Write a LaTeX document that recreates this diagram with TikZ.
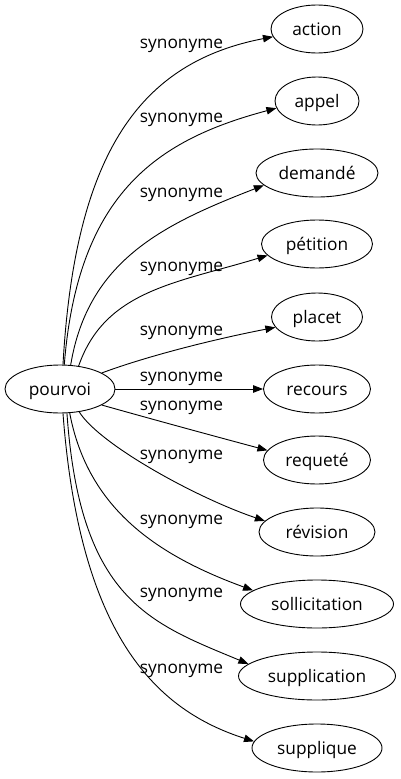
\documentclass[tikz,border=0pt]{standalone}
\usepackage{fontspec}
\setmainfont{Open Sans}
\usetikzlibrary{arrows.meta,shapes.geometric}
\begin{document}
\begin{tikzpicture}[x=1pt,y=-1pt,
  word/.style={ellipse, draw, line width=0.9pt, inner sep=0pt, minimum height=48pt,
    text height=15pt, text depth=3pt, font=\fontsize{17.3}{20}\selectfont},
  lab/.style={inner sep=0pt, anchor=center, font=\fontsize{17.3}{20}\selectfont},
  edge/.style={line width=0.9pt, -{Triangle[length=10pt,width=7.5pt]}}]
\useasboundingbox (0,0) rectangle (400,779);
\node[word, minimum width=110pt] (p) at (60,389) {pourvoi};
\node[word, minimum width=92pt]  (t1)  at (317,29)  {action};
\node[word, minimum width=84pt]  (t2)  at (317,101) {appel};
\node[word, minimum width=122pt] (t3)  at (317,173) {demandé};
\node[word, minimum width=111pt] (t4)  at (317,244) {pétition};
\node[word, minimum width=91pt]  (t5)  at (317,317) {placet};
\node[word, minimum width=107pt] (t6)  at (317,389) {recours};
\node[word, minimum width=107pt] (t7)  at (317,460) {requeté};
\node[word, minimum width=116pt] (t8)  at (317,532) {révision};
\node[word, minimum width=153pt] (t9)  at (317,604) {sollicitation};
\node[word, minimum width=157pt] (t10) at (317,676) {supplication};
\node[word, minimum width=130pt] (t11) at (317,748) {supplique};

\draw[edge] (p.83) .. controls (75,150) and (142,62) .. (t1.190);
\draw[edge] (p.80) .. controls (78,190) and (161,139) .. (t2.190);
\draw[edge] (p.66) .. controls (88,260) and (164,224) .. (t3.193);
\draw[edge] (p.51) .. controls (105,290) and (177,283) .. (t4.193.5);
\draw[edge] (p.21.6) .. controls (150,355) and (220,338) .. (t5.194);
\draw[edge] (p.east) -- (t6.west);
\draw[edge] (p.339) .. controls (155,420) and (210,435) .. (t7.169.5);
\draw[edge] (p.310) .. controls (100,445) and (197,498) .. (t8.168.5);
\draw[edge] (p.292.6) .. controls (88,510) and (159,556) .. (t9.168.5);
\draw[edge] (p.286) .. controls (80,600) and (150,623) .. (t10.170);
\draw[edge] (p.277) .. controls (80,640) and (159,711) .. (t11.174.6);

\node[lab] (l1)  at (181.5,46)  {synonyme};
\node[lab] (l2)  at (181.5,120) {synonyme};
\node[lab] (l3)  at (181.5,195) {synonyme};
\node[lab] (l4)  at (181.5,269) {synonyme};
\node[lab] (l5)  at (181.5,333) {synonyme};
\node[lab] (l6)  at (181.5,379) {synonyme};
\node[lab] (l7)  at (181.5,408) {synonyme};
\node[lab] (l8)  at (181.5,457) {synonyme};
\node[lab] (l9)  at (181.5,522) {synonyme};
\node[lab] (l10) at (181.5,595) {synonyme};
\node[lab] (l11) at (181.5,671) {synonyme};
\end{tikzpicture}
\end{document}
